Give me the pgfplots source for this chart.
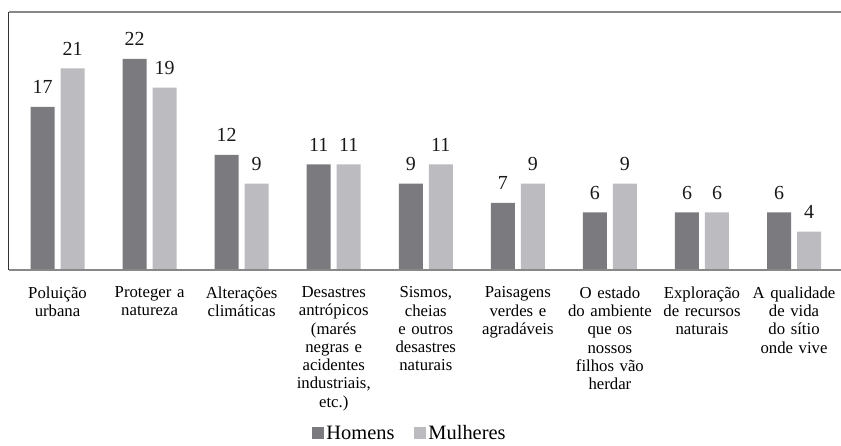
\documentclass[border=0pt]{standalone}
\usepackage{pgfplots}
\pgfplotsset{compat=1.18}
\usepackage{fontspec}
\setmainfont{Liberation Serif}
\definecolor{barDark}{RGB}{123,123,127}
\definecolor{barLight}{RGB}{188,188,192}
\definecolor{frameGray}{RGB}{136,136,136}
\begin{document}
\begin{tikzpicture}
\useasboundingbox (-9bp,-176bp) rectangle (832bp,270bp);
\begin{axis}[
  scale only axis,
  width=832bp, height=258bp,
  xmin=-0.527, xmax=8.51,
  ymin=0, ymax=26.875,
  ybar=6bp, bar width=24bp,
  axis line style={draw=none},
  /pgf/number format/assume math mode=true,
  ytick=\empty,
  xtick={0,1,2,3,4,5,6,7,8},
  xticklabels={
    {Poluição\\urbana},
    {Proteger a\\natureza},
    {Alterações\\climáticas},
    {Desastres\\antrópicos\\(marés\\negras e\\acidentes\\industriais,\\etc.)},
    {Sismos,\\cheias\\e outros\\desastres\\naturais},
    {Paisagens\\verdes e\\agradáveis},
    {O estado\\do ambiente\\que os\\nossos\\filhos vão\\herdar},
    {Exploração\\de recursos\\naturais},
    {A qualidade\\de vida\\do sítio\\onde vive}},
  xtick style={draw=none},
  xticklabel style={text width=100bp, align=center, anchor=north, yshift=-9bp,
    font=\fontsize{16.8}{18.3}\selectfont},
  nodes near coords,
  every node near coord/.append style={font=\fontsize{20}{20}\selectfont, anchor=base, yshift=13bp, text=black!90},
  clip=false,
  legend style={draw=none, at={(axis description cs:0.482,-0.633)}, anchor=center,
    legend columns=2, font=\fontsize{20.5}{20.5}\selectfont,
    /tikz/every even column/.append style={column sep=18bp},
    /tikz/every odd column/.append style={inner sep=0pt}},
  legend image code/.code={\fill[#1] (0bp,-6bp) rectangle (12bp,6bp);},
]
\addplot[fill=barDark, draw=none] coordinates {(0,17) (1,22) (2,12) (3,11) (4,9) (5,7) (6,6) (7,6) (8,6)};
\addplot[fill=barLight, draw=none] coordinates {(0,21) (1,19) (2,9) (3,11) (4,11) (5,9) (6,9) (7,6) (8,4)};
\legend{Homens, Mulheres}
\draw[black!80, line width=1bp] (rel axis cs:0,0) -- (rel axis cs:0,1);
\draw[frameGray, line width=2bp] (rel axis cs:0,1) -- (rel axis cs:1,1);
\draw[frameGray, line width=1.5bp] (rel axis cs:0,0) -- (rel axis cs:1,0);
\end{axis}
\end{tikzpicture}
\end{document}
